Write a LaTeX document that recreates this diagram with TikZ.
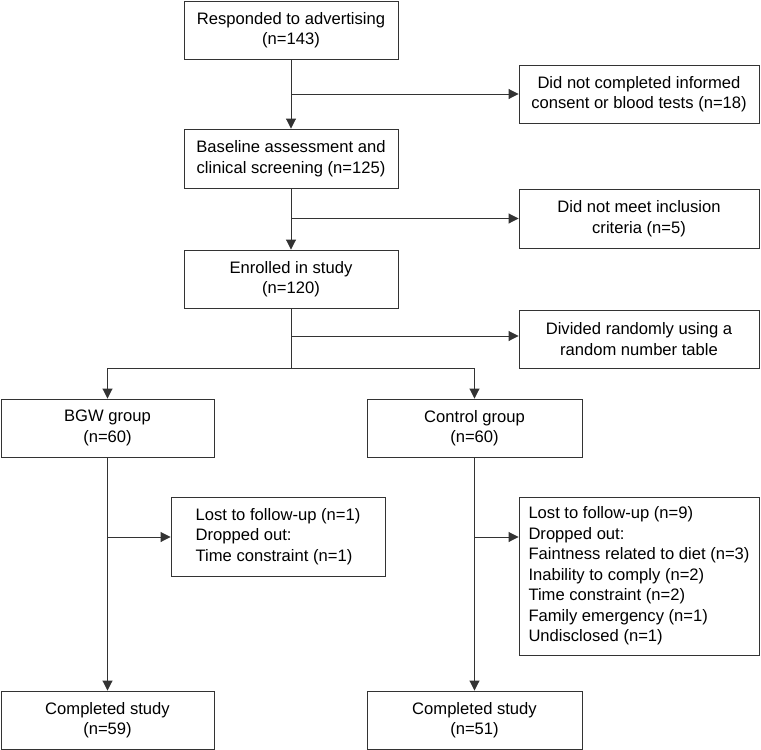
\documentclass[tikz,border=0pt]{standalone}
\usepackage{fontspec}
\setmainfont{Liberation Sans}
\usetikzlibrary{arrows.meta}
\begin{document}
\begin{tikzpicture}[x=1pt,y=-1pt,
  box/.style={draw=black!80, line width=0.9pt, fill=white, inner sep=0pt, align=center,
    font=\fontsize{16.6}{20.5}\selectfont},
  lbox/.style={box, align=left},
  arr/.style={draw=black!80, line width=0.9pt, -{Triangle[length=10pt,width=10pt]}},
  ln/.style={draw=black!80, line width=0.9pt}]
\useasboundingbox (0,0) rectangle (761,750);
\node[box, minimum width=214pt, minimum height=58pt] (b1) at (291,30) {Responded to advertising\\(n=143)};
\node[box, minimum width=240pt, minimum height=58pt] (b2) at (639,94) {Did not completed informed\\consent or blood tests (n=18)};
\node[box, minimum width=214pt, minimum height=59pt] (b3) at (291,158.5) {Baseline assessment and\\clinical screening (n=125)};
\node[box, minimum width=240pt, minimum height=59pt] (b4) at (639,218.5) {Did not meet inclusion\\criteria (n=5)};
\node[box, minimum width=214pt, minimum height=58pt] (b5) at (291,279) {Enrolled in study\\(n=120)};
\node[box, minimum width=240pt, minimum height=58pt] (b6) at (639,339) {Divided randomly using a\\random number table};
\node[box, minimum width=213pt, minimum height=58pt] (b7) at (107.5,428) {BGW group\\(n=60)};
\node[box, minimum width=215pt, minimum height=58pt] (b8) at (474.5,428) {Control group\\(n=60)};
\node[lbox, minimum width=214pt, minimum height=79pt] (b9) at (278,536.5) {Lost to follow-up (n=1)\\Dropped out:\\Time constraint (n=1)};
\node[lbox, minimum width=240pt, minimum height=158pt] (b10) at (639,576) {Lost to follow-up (n=9)\\Dropped out:\\Faintness related to diet (n=3)\\Inability to comply (n=2)\\Time constraint (n=2)\\Family emergency (n=1)\\Undisclosed (n=1)};
\node[box, minimum width=213pt, minimum height=58pt] (b11) at (107.5,720) {Completed study\\(n=59)};
\node[box, minimum width=215pt, minimum height=58pt] (b12) at (474.5,720) {Completed study\\(n=51)};
% main column
\draw[arr] (b1.south) -- (b3.north);
\draw[arr] (b1.south |- b2.west) -- (b2.west);
\draw[arr] (b3.south) -- (b5.north);
\draw[arr] (b3.south |- b4.west) -- (b4.west);
\coordinate (j3) at (291,336);
\draw[arr] (j3) -- (j3 -| b6.west);
\coordinate (s) at (291,368);
\draw[ln] (b5.south) -- (s);
\draw[arr] (s) -| (b7.north);
\draw[arr] (s) -| (b8.north);
% BGW arm
\draw[arr] (b7.south) -- (b11.north);
\coordinate (j4) at (107.5,537);
\draw[arr] (j4) -- (j4 -| b9.west);
% Control arm
\draw[arr] (b8.south) -- (b12.north);
\coordinate (j5) at (474.5,537);
\draw[arr] (j5) -- (j5 -| b10.west);
\end{tikzpicture}
\end{document}
